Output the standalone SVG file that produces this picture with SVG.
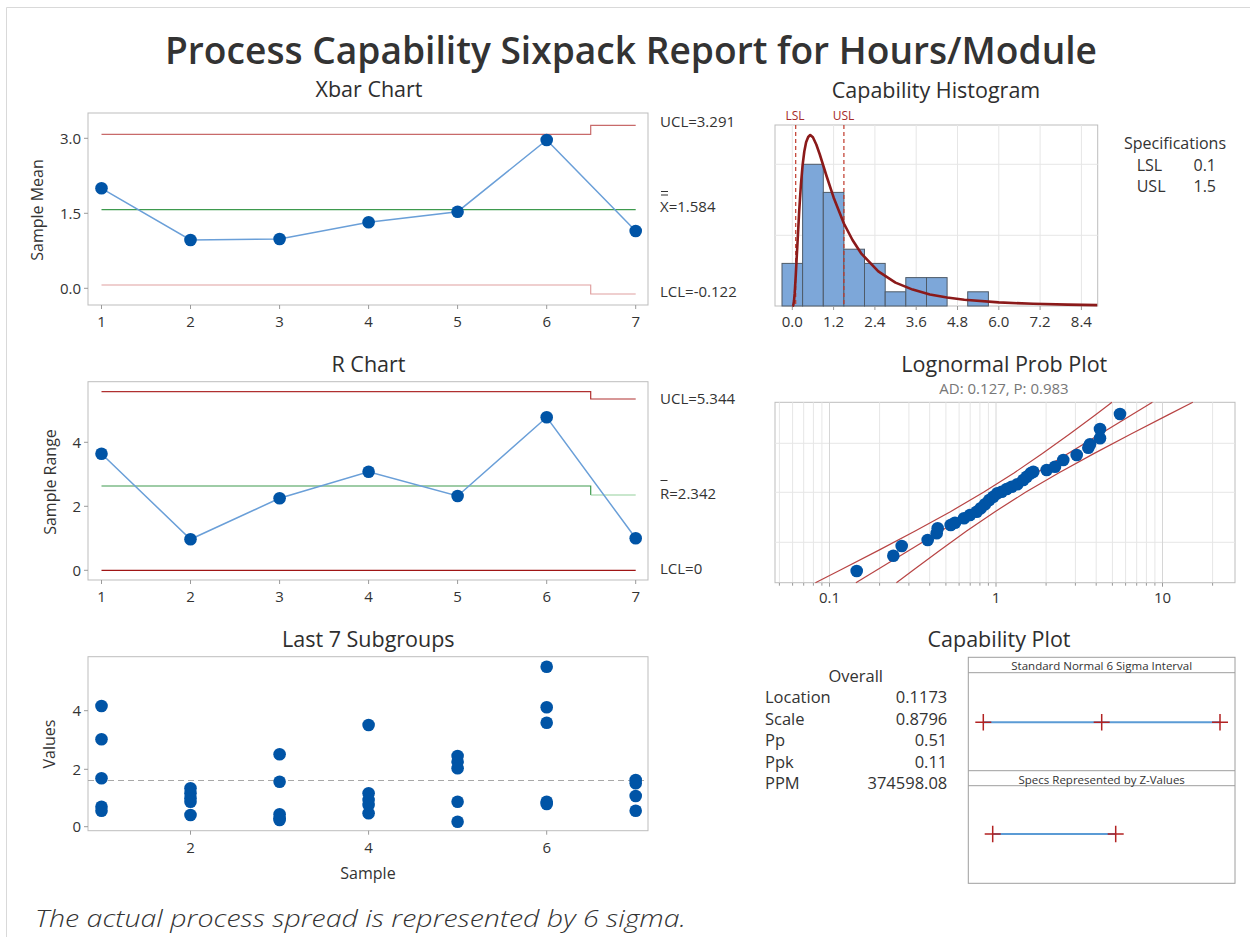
<svg xmlns="http://www.w3.org/2000/svg" width="1250" height="937" viewBox="0 0 1250 937">
<style>
.t{font-family:"Open Sans","Noto Sans","DejaVu Sans",sans-serif;fill:#333}
.ttl{font-size:21.5px;text-anchor:middle;fill:#2e2e2e}
.ax{font-size:15px}
.mid{text-anchor:middle}
.end{text-anchor:end}
.frame{fill:#fff;stroke:#BDBDBD;stroke-width:1}
.dot{fill:#0054A6}
.conn{fill:none;stroke:#6A9FD8;stroke-width:1.5}
.grid{stroke:#E6E6E6;stroke-width:1;fill:none}
.tick{stroke:#9A9A9A;stroke-width:1}
.cross{stroke:#B22222;stroke-width:1.5}
.bar{stroke:#333;stroke-width:1}
</style>
<rect x="0" y="0" width="1250" height="937" fill="#fff"/>
<path d="M6.5,937 V7.5 H1250" fill="none" stroke="#D9D9D9" stroke-width="1"/>

<g id="title">
<text class="t" x="631" y="64" font-size="38" font-weight="600" text-anchor="middle" textLength="932" lengthAdjust="spacingAndGlyphs">Process Capability Sixpack Report for Hours/Module</text>
</g>

<g id="xbar-chart">
<text class="t ttl" x="369" y="96.7">Xbar Chart</text>
<rect class="frame" x="88" y="113" width="560" height="192"/>
<g class="tick">
<line x1="84" y1="138.3" x2="88" y2="138.3"/><line x1="84" y1="213.3" x2="88" y2="213.3"/><line x1="84" y1="288.3" x2="88" y2="288.3"/>
<line x1="101.5" y1="305" x2="101.5" y2="309"/><line x1="190.5" y1="305" x2="190.5" y2="309"/><line x1="279.6" y1="305" x2="279.6" y2="309"/><line x1="368.6" y1="305" x2="368.6" y2="309"/><line x1="457.6" y1="305" x2="457.6" y2="309"/><line x1="546.7" y1="305" x2="546.7" y2="309"/><line x1="635.7" y1="305" x2="635.7" y2="309"/>
</g>
<text class="t ax end" x="81" y="143.5">3.0</text>
<text class="t ax end" x="81" y="218.5">1.5</text>
<text class="t ax end" x="81" y="293.5">0.0</text>
<g class="t ax mid">
<text x="101.5" y="326.7">1</text><text x="190.5" y="326.7">2</text><text x="279.6" y="326.7">3</text><text x="368.6" y="326.7">4</text><text x="457.6" y="326.7">5</text><text x="546.7" y="326.7">6</text><text x="635.7" y="326.7">7</text>
</g>
<text class="t mid" font-size="16" transform="translate(43,210) rotate(-90)">Sample Mean</text>
<path d="M101.5,134.3 H590.7 V125.3 H635.7" fill="none" stroke="#C86A6A" stroke-width="1.2"/>
<path d="M101.5,209.7 H635.7" fill="none" stroke="#3E9A4E" stroke-width="1.2"/>
<path d="M101.5,285 H590.7 V294 H635.7" fill="none" stroke="#E0A0A0" stroke-width="1.2"/>
<polyline class="conn" points="101.5,188.3 190.5,240 279.6,239 368.6,222.3 457.6,211.7 546.7,140 635.7,231"/>
<g class="dot">
<circle cx="101.5" cy="188.3" r="6.3"/><circle cx="190.5" cy="240" r="6.3"/><circle cx="279.6" cy="239" r="6.3"/><circle cx="368.6" cy="222.3" r="6.3"/><circle cx="457.6" cy="211.7" r="6.3"/><circle cx="546.7" cy="140" r="6.3"/><circle cx="635.7" cy="231" r="6.3"/>
</g>
<text class="t ax" x="660" y="127.3">UCL=3.291</text>
<path class="bar" d="M661,191.5 H668 M661,195 H668"/>
<text class="t ax" x="660" y="212.3">X=1.584</text>
<text class="t ax" x="660" y="297.3">LCL=-0.122</text>
</g>

<g id="histogram">
<text class="t ttl" x="936" y="97.7">Capability Histogram</text>
<rect class="frame" x="775" y="125" width="322.7" height="181"/>
<g class="grid">
<line x1="792.3" y1="125" x2="792.3" y2="306"/><line x1="833.6" y1="125" x2="833.6" y2="306"/><line x1="874.9" y1="125" x2="874.9" y2="306"/><line x1="916.2" y1="125" x2="916.2" y2="306"/><line x1="957.5" y1="125" x2="957.5" y2="306"/><line x1="998.8" y1="125" x2="998.8" y2="306"/><line x1="1040.1" y1="125" x2="1040.1" y2="306"/><line x1="1081.4" y1="125" x2="1081.4" y2="306"/>
<line x1="775" y1="164.3" x2="1097.7" y2="164.3"/><line x1="775" y1="235.3" x2="1097.7" y2="235.3"/>
</g>
<g fill="#7DA7D9" stroke="#4F5B68" stroke-width="1">
<rect x="782" y="263.4" width="20.6" height="42.6"/>
<rect x="802.6" y="164.3" width="20.7" height="141.7"/>
<rect x="823.3" y="192.4" width="20.6" height="113.6"/>
<rect x="843.9" y="249.2" width="20.6" height="56.8"/>
<rect x="864.5" y="263.4" width="20.7" height="42.6"/>
<rect x="885.2" y="291.8" width="20.6" height="14.2"/>
<rect x="905.8" y="277.6" width="20.7" height="28.4"/>
<rect x="926.5" y="277.6" width="20.6" height="28.4"/>
<rect x="967.7" y="291.8" width="20.7" height="14.2"/>
</g>
<g class="tick">
<line x1="792.3" y1="306" x2="792.3" y2="310"/><line x1="833.6" y1="306" x2="833.6" y2="310"/><line x1="874.9" y1="306" x2="874.9" y2="310"/><line x1="916.2" y1="306" x2="916.2" y2="310"/><line x1="957.5" y1="306" x2="957.5" y2="310"/><line x1="998.8" y1="306" x2="998.8" y2="310"/><line x1="1040.1" y1="306" x2="1040.1" y2="310"/><line x1="1081.4" y1="306" x2="1081.4" y2="310"/>
</g>
<g class="t ax mid">
<text x="792.3" y="327">0.0</text><text x="833.6" y="327">1.2</text><text x="874.9" y="327">2.4</text><text x="916.2" y="327">3.6</text><text x="957.5" y="327">4.8</text><text x="998.8" y="327">6.0</text><text x="1040.1" y="327">7.2</text><text x="1081.4" y="327">8.4</text>
</g>
<g stroke="#C0392B" stroke-width="1.2" stroke-dasharray="4,3">
<line x1="795.7" y1="125" x2="795.7" y2="306"/>
<line x1="843.9" y1="125" x2="843.9" y2="306"/>
</g>
<polyline fill="none" stroke="#8B1A1A" stroke-width="2.6" stroke-linejoin="round" points="792.3,306 793,305.8 793.3,305.1 794,301 794.7,293.2 795.7,276.3 796.4,263.2 797.5,242.7 799.2,210.9 800.9,184.8 802.6,165.1 804.3,151.5 806.1,142.3 808.2,137 810.2,135 812.9,137.3 816.3,144.5 819.8,154.5 826.7,176.5 833.6,197.4 843.9,223.5 852.5,240 861.1,253.3 878.3,271.4 895.5,282.6 912.7,289.6 929.9,294.5 947.1,297.5 964.3,299.8 998.7,302.4 1033.1,303.8 1067.5,304.6 1097.2,305.1"/>
<text class="t mid" font-size="12" style="fill:#A52A2A" x="795" y="120">LSL</text>
<text class="t mid" font-size="12" style="fill:#A52A2A" x="843.5" y="120">USL</text>
<text class="t mid" font-size="16" x="1175" y="149">Specifications</text>
<text class="t" font-size="16" x="1136.7" y="170.5">LSL</text>
<text class="t end" font-size="16" x="1216" y="170.5">0.1</text>
<text class="t" font-size="16" x="1136.7" y="191.7">USL</text>
<text class="t end" font-size="16" x="1216" y="191.7">1.5</text>
</g>

<g id="r-chart">
<text class="t ttl" x="368.5" y="371.7">R Chart</text>
<rect class="frame" x="88" y="381.7" width="560" height="198.3"/>
<g class="tick">
<line x1="84" y1="442.3" x2="88" y2="442.3"/><line x1="84" y1="506.3" x2="88" y2="506.3"/><line x1="84" y1="570.3" x2="88" y2="570.3"/>
<line x1="101.5" y1="580" x2="101.5" y2="584"/><line x1="190.5" y1="580" x2="190.5" y2="584"/><line x1="279.6" y1="580" x2="279.6" y2="584"/><line x1="368.6" y1="580" x2="368.6" y2="584"/><line x1="457.6" y1="580" x2="457.6" y2="584"/><line x1="546.7" y1="580" x2="546.7" y2="584"/><line x1="635.7" y1="580" x2="635.7" y2="584"/>
</g>
<text class="t ax end" x="81" y="447.5">4</text>
<text class="t ax end" x="81" y="511.5">2</text>
<text class="t ax end" x="81" y="575.5">0</text>
<g class="t ax mid">
<text x="101.5" y="602.3">1</text><text x="190.5" y="602.3">2</text><text x="279.6" y="602.3">3</text><text x="368.6" y="602.3">4</text><text x="457.6" y="602.3">5</text><text x="546.7" y="602.3">6</text><text x="635.7" y="602.3">7</text>
</g>
<text class="t mid" font-size="16" transform="translate(56,482) rotate(-90)">Sample Range</text>
<path d="M101.5,391.7 H590.7 V399 H635.7" fill="none" stroke="#B03030" stroke-width="1.2"/>
<path d="M101.5,486 H590.7 V495" fill="none" stroke="#3E9A4E" stroke-width="1.2"/>
<path d="M590.7,495 H635.7" fill="none" stroke="#94D09C" stroke-width="1.2"/>
<path d="M101.5,570.3 H635.7" fill="none" stroke="#A01515" stroke-width="1.2"/>
<polyline class="conn" points="101.5,453.7 190.5,539.3 279.6,498.3 368.6,471.7 457.6,496 546.7,417.3 635.7,538.3"/>
<g class="dot">
<circle cx="101.5" cy="453.7" r="6.3"/><circle cx="190.5" cy="539.3" r="6.3"/><circle cx="279.6" cy="498.3" r="6.3"/><circle cx="368.6" cy="471.7" r="6.3"/><circle cx="457.6" cy="496" r="6.3"/><circle cx="546.7" cy="417.3" r="6.3"/><circle cx="635.7" cy="538.3" r="6.3"/>
</g>
<text class="t ax" x="660" y="404">UCL=5.344</text>
<path class="bar" d="M660.5,480.5 H667.5"/>
<text class="t ax" x="660" y="499">R=2.342</text>
<text class="t ax" x="660" y="573.5">LCL=0</text>
</g>

<g id="probability-plot">
<text class="t ttl" x="1004.3" y="371.7">Lognormal Prob Plot</text>
<text class="t mid" font-size="15" style="fill:#777" x="1004" y="394">AD: 0.127, P: 0.983</text>
<rect class="frame" x="775" y="402.3" width="460" height="180.4"/>
<g class="grid">
<line x1="779.4" y1="402.3" x2="779.4" y2="582.7"/><line x1="792.6" y1="402.3" x2="792.6" y2="582.7"/><line x1="803.7" y1="402.3" x2="803.7" y2="582.7"/><line x1="813.4" y1="402.3" x2="813.4" y2="582.7"/><line x1="821.9" y1="402.3" x2="821.9" y2="582.7"/>
<line x1="879.6" y1="402.3" x2="879.6" y2="582.7"/><line x1="908.9" y1="402.3" x2="908.9" y2="582.7"/><line x1="929.7" y1="402.3" x2="929.7" y2="582.7"/><line x1="945.9" y1="402.3" x2="945.9" y2="582.7"/><line x1="959.1" y1="402.3" x2="959.1" y2="582.7"/><line x1="970.2" y1="402.3" x2="970.2" y2="582.7"/><line x1="979.9" y1="402.3" x2="979.9" y2="582.7"/><line x1="988.4" y1="402.3" x2="988.4" y2="582.7"/>
<line x1="1046.1" y1="402.3" x2="1046.1" y2="582.7"/><line x1="1075.4" y1="402.3" x2="1075.4" y2="582.7"/><line x1="1096.2" y1="402.3" x2="1096.2" y2="582.7"/><line x1="1112.4" y1="402.3" x2="1112.4" y2="582.7"/><line x1="1125.6" y1="402.3" x2="1125.6" y2="582.7"/><line x1="1136.7" y1="402.3" x2="1136.7" y2="582.7"/><line x1="1146.4" y1="402.3" x2="1146.4" y2="582.7"/><line x1="1154.9" y1="402.3" x2="1154.9" y2="582.7"/><line x1="1212.6" y1="402.3" x2="1212.6" y2="582.7"/>
<line x1="775" y1="443.3" x2="1235" y2="443.3"/><line x1="775" y1="492.3" x2="1235" y2="492.3"/><line x1="775" y1="542.3" x2="1235" y2="542.3"/>
</g>
<g stroke="#D6D6D6" stroke-width="1">
<line x1="829.5" y1="402.3" x2="829.5" y2="582.7"/><line x1="996" y1="402.3" x2="996" y2="582.7"/><line x1="1162.5" y1="402.3" x2="1162.5" y2="582.7"/>
</g>
<g class="tick">
<line x1="779.4" y1="582.7" x2="779.4" y2="585.7"/><line x1="792.6" y1="582.7" x2="792.6" y2="585.7"/><line x1="803.7" y1="582.7" x2="803.7" y2="585.7"/><line x1="813.4" y1="582.7" x2="813.4" y2="585.7"/><line x1="821.9" y1="582.7" x2="821.9" y2="585.7"/><line x1="829.5" y1="582.7" x2="829.5" y2="586.7"/>
<line x1="879.6" y1="582.7" x2="879.6" y2="585.7"/><line x1="908.9" y1="582.7" x2="908.9" y2="585.7"/><line x1="929.7" y1="582.7" x2="929.7" y2="585.7"/><line x1="945.9" y1="582.7" x2="945.9" y2="585.7"/><line x1="959.1" y1="582.7" x2="959.1" y2="585.7"/><line x1="970.2" y1="582.7" x2="970.2" y2="585.7"/><line x1="979.9" y1="582.7" x2="979.9" y2="585.7"/><line x1="988.4" y1="582.7" x2="988.4" y2="585.7"/><line x1="996" y1="582.7" x2="996" y2="586.7"/>
<line x1="1046.1" y1="582.7" x2="1046.1" y2="585.7"/><line x1="1075.4" y1="582.7" x2="1075.4" y2="585.7"/><line x1="1096.2" y1="582.7" x2="1096.2" y2="585.7"/><line x1="1112.4" y1="582.7" x2="1112.4" y2="585.7"/><line x1="1125.6" y1="582.7" x2="1125.6" y2="585.7"/><line x1="1136.7" y1="582.7" x2="1136.7" y2="585.7"/><line x1="1146.4" y1="582.7" x2="1146.4" y2="585.7"/><line x1="1154.9" y1="582.7" x2="1154.9" y2="585.7"/><line x1="1162.5" y1="582.7" x2="1162.5" y2="586.7"/><line x1="1212.6" y1="582.7" x2="1212.6" y2="585.7"/>
</g>
<g class="t ax mid">
<text x="829.5" y="603">0.1</text><text x="996" y="603">1</text><text x="1162.5" y="603">10</text>
</g>
<g fill="none" stroke="#B84444" stroke-width="1.2">
<line x1="855.9" y1="582.7" x2="1152.4" y2="402.3"/>
<polyline points="815.4,582.7 840.9,569.7 878.5,550.4 915.2,531 950.4,511.7 983.5,492.3 1014,473 1042.4,453.6 1069.3,434.3 1095.3,414.9 1112,402.3"/>
<polyline points="896.4,582.7 913.7,569.7 939.7,550.4 966.6,531 995,511.7 1025.5,492.3 1058.6,473 1093.8,453.6 1130.5,434.3 1168.1,414.9 1192.8,402.3"/>
</g>
<g class="dot">
<circle cx="856.7" cy="571" r="6.3"/><circle cx="893.3" cy="555.7" r="6.3"/><circle cx="901.7" cy="546" r="6.3"/><circle cx="927.7" cy="540" r="6.3"/><circle cx="936.7" cy="533.3" r="6.3"/><circle cx="937.7" cy="528.3" r="6.3"/><circle cx="950.7" cy="525" r="6.3"/><circle cx="955" cy="522.7" r="6.3"/><circle cx="964" cy="518.3" r="6.3"/><circle cx="970" cy="515" r="6.3"/><circle cx="976.7" cy="511.7" r="6.3"/><circle cx="980.7" cy="508.3" r="6.3"/><circle cx="985" cy="504.3" r="6.3"/><circle cx="989.3" cy="500" r="6.3"/><circle cx="993.3" cy="496.7" r="6.3"/><circle cx="997.3" cy="493.3" r="6.3"/><circle cx="1001.7" cy="491.7" r="6.3"/><circle cx="1006.7" cy="489" r="6.3"/><circle cx="1011.7" cy="486.7" r="6.3"/><circle cx="1017.3" cy="484.3" r="6.3"/><circle cx="1023.3" cy="480" r="6.3"/><circle cx="1026.7" cy="476.7" r="6.3"/><circle cx="1030.7" cy="473.3" r="6.3"/><circle cx="1033.3" cy="471.7" r="6.3"/><circle cx="1046.7" cy="470" r="6.3"/><circle cx="1055" cy="466.7" r="6.3"/><circle cx="1063.3" cy="460" r="6.3"/><circle cx="1076.7" cy="455" r="6.3"/><circle cx="1088.3" cy="447.7" r="6.3"/><circle cx="1090" cy="444.3" r="6.3"/><circle cx="1100" cy="438.3" r="6.3"/><circle cx="1100" cy="429" r="6.3"/><circle cx="1120" cy="414" r="6.3"/>
</g>
</g>

<g id="subgroups-chart">
<text class="t ttl" x="368.3" y="646.7">Last 7 Subgroups</text>
<rect class="frame" x="88" y="656.7" width="560" height="174"/>
<line x1="88" y1="780.5" x2="648" y2="780.5" stroke="#A8A8A8" stroke-width="1" stroke-dasharray="6,4"/>
<g class="tick">
<line x1="84" y1="710.7" x2="88" y2="710.7"/><line x1="84" y1="769.3" x2="88" y2="769.3"/><line x1="84" y1="826.7" x2="88" y2="826.7"/>
<line x1="190.5" y1="830.7" x2="190.5" y2="834.7"/><line x1="368.6" y1="830.7" x2="368.6" y2="834.7"/><line x1="546.7" y1="830.7" x2="546.7" y2="834.7"/>
</g>
<text class="t ax end" x="81" y="716">4</text>
<text class="t ax end" x="81" y="774.5">2</text>
<text class="t ax end" x="81" y="832">0</text>
<g class="t ax mid">
<text x="190.5" y="853.3">2</text><text x="368.6" y="853.3">4</text><text x="546.7" y="853.3">6</text>
</g>
<text class="t mid" font-size="16" transform="translate(55,744) rotate(-90)">Values</text>
<text class="t mid" font-size="16" x="368" y="879">Sample</text>
<g class="dot">
<circle cx="101.5" cy="706" r="6.3"/><circle cx="101.5" cy="739.3" r="6.3"/><circle cx="101.5" cy="778.3" r="6.3"/><circle cx="101.5" cy="806.7" r="6.3"/><circle cx="101.5" cy="810.7" r="6.3"/>
<circle cx="190.5" cy="788.3" r="6.3"/><circle cx="190.5" cy="793.3" r="6.3"/><circle cx="190.5" cy="798.3" r="6.3"/><circle cx="190.5" cy="801.7" r="6.3"/><circle cx="190.5" cy="815" r="6.3"/>
<circle cx="279.6" cy="754.3" r="6.3"/><circle cx="279.6" cy="781.7" r="6.3"/><circle cx="279.6" cy="814.3" r="6.3"/><circle cx="279.6" cy="818.3" r="6.3"/><circle cx="279.6" cy="820" r="6.3"/>
<circle cx="368.6" cy="725" r="6.3"/><circle cx="368.6" cy="793.3" r="6.3"/><circle cx="368.6" cy="800" r="6.3"/><circle cx="368.6" cy="805" r="6.3"/><circle cx="368.6" cy="813.3" r="6.3"/>
<circle cx="457.6" cy="756" r="6.3"/><circle cx="457.6" cy="761.7" r="6.3"/><circle cx="457.6" cy="768.3" r="6.3"/><circle cx="457.6" cy="801.7" r="6.3"/><circle cx="457.6" cy="821.7" r="6.3"/>
<circle cx="546.7" cy="666.7" r="6.3"/><circle cx="546.7" cy="707.3" r="6.3"/><circle cx="546.7" cy="722.7" r="6.3"/><circle cx="546.7" cy="801.7" r="6.3"/><circle cx="546.7" cy="804" r="6.3"/>
<circle cx="635.7" cy="780" r="6.3"/><circle cx="635.7" cy="783.3" r="6.3"/><circle cx="635.7" cy="796" r="6.3"/><circle cx="635.7" cy="810.7" r="6.3"/>
</g>
</g>

<g id="capability-plot">
<text class="t ttl" x="999" y="646.7">Capability Plot</text>
<text class="t mid" font-size="16.5" x="855.7" y="681.7">Overall</text>
<g class="t" font-size="16.5">
<text x="765" y="703.3">Location</text><text x="765" y="724.7">Scale</text><text x="765" y="746.1">Pp</text><text x="765" y="767.5">Ppk</text><text x="765" y="788.9">PPM</text>
</g>
<g class="t end" font-size="16.5">
<text x="947.3" y="703.3">0.1173</text><text x="947.3" y="724.7">0.8796</text><text x="947.3" y="746.1">0.51</text><text x="947.3" y="767.5">0.11</text><text x="947.3" y="788.9">374598.08</text>
</g>
<rect x="968.3" y="657.3" width="266.7" height="226" fill="#fff" stroke="#9E9E9E" stroke-width="1"/>
<g stroke="#9E9E9E" stroke-width="1">
<line x1="968.3" y1="672.7" x2="1235" y2="672.7"/>
<line x1="968.3" y1="770.7" x2="1235" y2="770.7"/>
<line x1="968.3" y1="785.7" x2="1235" y2="785.7"/>
</g>
<text class="t mid" font-size="11.5" x="1101.7" y="670.3">Standard Normal 6 Sigma Interval</text>
<text class="t mid" font-size="11.5" x="1101.7" y="783.5">Specs Represented by Z-Values</text>
<line x1="983.3" y1="722.3" x2="1220" y2="722.3" stroke="#5B9BD5" stroke-width="2"/>
<line x1="992.7" y1="834" x2="1115.7" y2="834" stroke="#5B9BD5" stroke-width="2"/>
<g class="cross">
<path d="M975.3,722.3 H991.3 M983.3,714 V730.6"/>
<path d="M1093.7,722.3 H1109.7 M1101.7,714 V730.6"/>
<path d="M1212,722.3 H1228 M1220,714 V730.6"/>
<path d="M984.7,834 H1000.7 M992.7,825.7 V842.3"/>
<path d="M1107.7,834 H1123.7 M1115.7,825.7 V842.3"/>
</g>
</g>

<g id="footnote">
<text class="t" x="35" y="926.5" font-size="23" font-style="italic" font-weight="300" textLength="651" lengthAdjust="spacingAndGlyphs">The actual process spread is represented by 6 sigma.</text>
</g>
</svg>
